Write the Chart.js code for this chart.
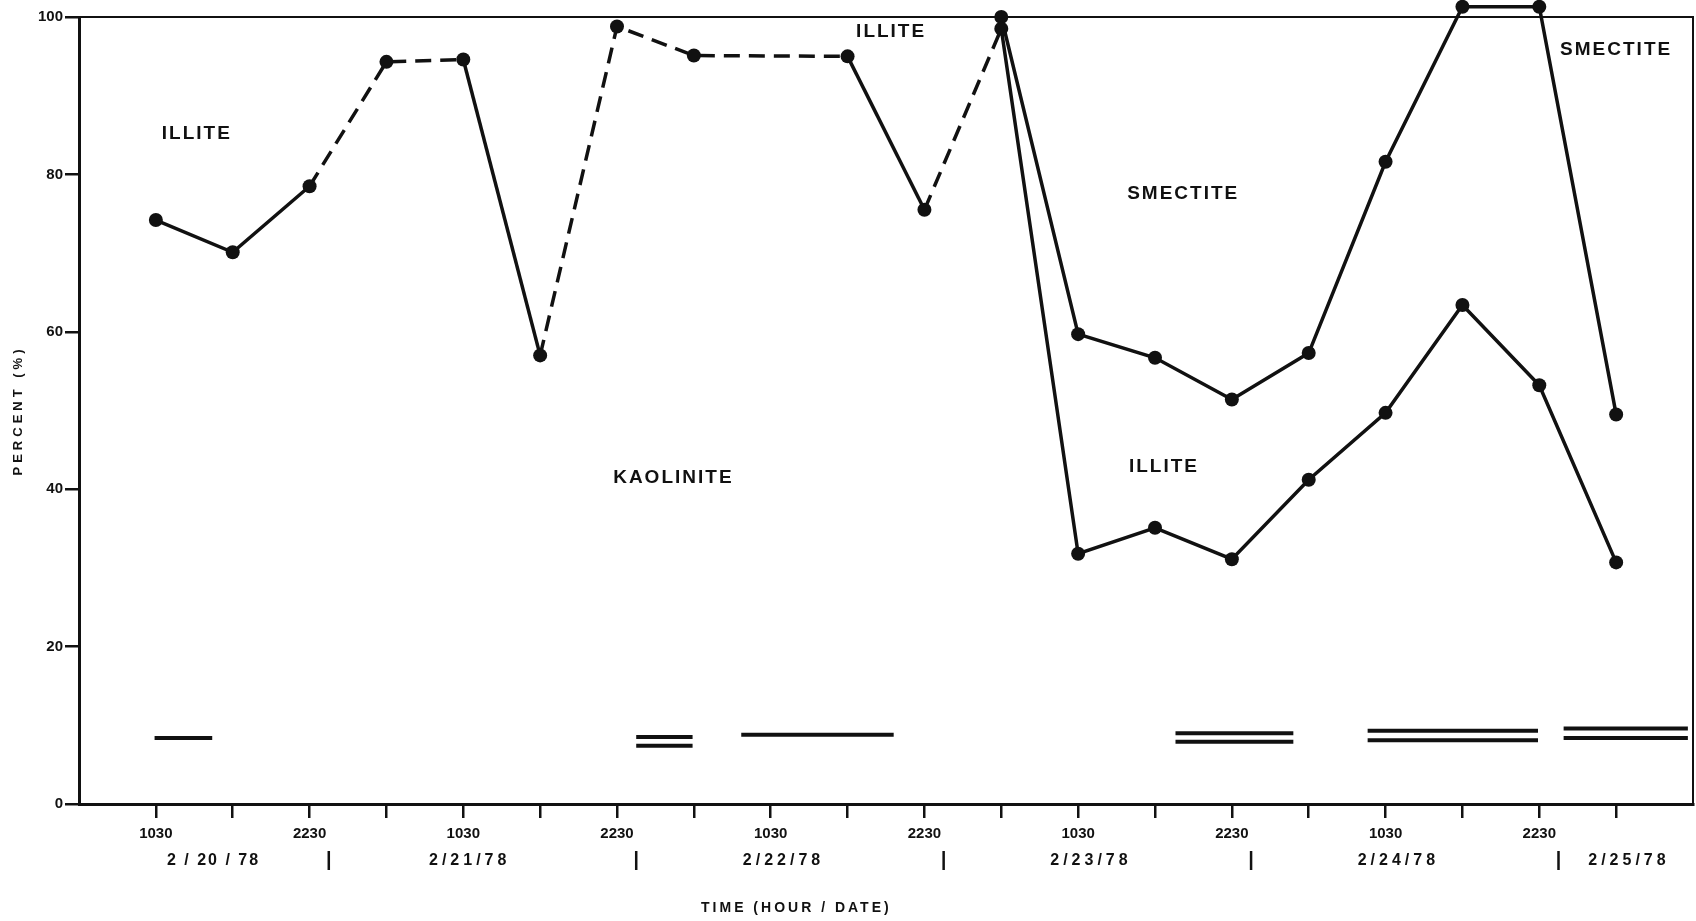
<!DOCTYPE html>
<html>
<head>
<meta charset="utf-8">
<script src="https://cdn.jsdelivr.net/npm/chart.js@4"></script>
<style>
html, body { margin: 0; padding: 0; background: #fff; }
#wrap { width: 1696px; height: 921px; }
</style>
</head>
<body>
<div id="wrap"><canvas id="render"></canvas></div>
<script>
// x values are hours counted from 0430 on 2/20/78
const tickHours = [6, 12, 18, 24, 30, 36, 42, 48, 54, 60, 66, 72, 78, 84, 90, 96, 102, 108, 114, 120];
const tickText = ['1030', '', '2230', '', '1030', '', '2230', '', '1030', '', '2230', '', '1030', '', '2230', '', '1030', '', '2230', ''];
const dateText = ['2 / 20 / 78', '2/21/78', '2/22/78', '2/23/78', '2/24/78', '2/25/78'];
const dateHours = [10.5, 30.5, 55, 79, 103, 121];
const midnightHours = [19.5, 43.5, 67.5, 91.5, 115.5];

// top of kaolinite
const kaolHours = [6, 12, 18, 24, 30, 36, 42, 48, 60, 66, 72, 78, 84, 90, 96, 102, 108, 114, 120];
const kaolValues = [74.2, 70.1, 78.5, 94.3, 94.6, 57.0, 98.8, 95.1, 95.0, 75.5, 98.5, 31.8, 35.1, 31.1, 41.2, 49.7, 63.4, 53.2, 30.7];
const kaolDashed = [0, 0, 1, 1, 0, 1, 1, 1, 0, 1, 0, 0, 0, 0, 0, 0, 0, 0];
// top of illite
const illHours = [72, 78, 84, 90, 96, 102, 108, 114, 120];
const illValues = [100, 59.7, 56.7, 51.4, 57.3, 81.6, 101.3, 101.3, 49.5];

// sampling bars near the bottom
const sampleStart = [5.9, 43.5, 51.7, 85.6, 100.6, 115.9];
const sampleEnd = [10.4, 47.9, 63.6, 94.8, 113.9, 125.6];
const sampleUpper = [8.4, 8.5, 8.8, 9.0, 9.3, 9.6];
const sampleLower = [null, 7.4, null, 7.9, 8.1, 8.4];

const regionText = ['ILLITE', 'ILLITE', 'SMECTITE', 'ILLITE', 'KAOLINITE', 'SMECTITE'];
const regionHours = [9.2, 63.4, 86.2, 84.7, 46.4, 120];
const regionValues = [85.2, 98.1, 77.5, 42.9, 41.4, 95.8];

Chart.defaults.font.family = '"Liberation Sans", Arial, sans-serif';
Chart.defaults.color = '#111';

const ink = '#111';
const toXY = (xs, ys) => xs.map((x, i) => ({x: x, y: ys[i]}));

const pointStyle = {
    pointRadius: 7,
    pointHoverRadius: 14,
    pointBackgroundColor: ink,
    pointBorderWidth: 0
};

const datasets = [Object.assign({
    data: toXY(kaolHours, kaolValues),
    borderColor: ink,
    borderWidth: 3.5,
    clip: false,
    segment: {
        borderDash: c => kaolDashed[c.p0DataIndex] ? [16, 9] : undefined
    }
}, pointStyle), Object.assign({
    data: toXY(illHours, illValues),
    borderColor: ink,
    borderWidth: 3.5,
    clip: false
}, pointStyle)];

sampleStart.forEach((s, i) => {
    [sampleUpper[i], sampleLower[i]].forEach(v => {
        if (v === null) return;
        datasets.push({
            data: [{x: s, y: v}, {x: sampleEnd[i], y: v}],
            borderColor: ink,
            borderWidth: 4,
            pointRadius: 0,
            clip: false
        });
    });
});

const extras = {
    id: 'extras',
    afterDraw(chart) {
        const c = chart.ctx;
        const a = chart.chartArea;
        const xs = chart.scales.x;
        const ys = chart.scales.y;
        c.save();
        c.strokeStyle = ink;
        c.fillStyle = ink;
        c.lineWidth = 2;
        c.beginPath();
        c.moveTo(a.left, a.top);
        c.lineTo(a.right, a.top);
        c.lineTo(a.right, a.bottom);
        c.stroke();

        c.textAlign = 'center';
        c.textBaseline = 'middle';

        // region names
        c.font = 'bold 19px "Liberation Sans", Arial, sans-serif';
        c.letterSpacing = '2px';
        regionText.forEach((t, i) => {
            c.fillText(t, xs.getPixelForValue(regionHours[i]), ys.getPixelForValue(regionValues[i]));
        });

        // dates and day separators
        c.font = 'bold 16px "Liberation Sans", Arial, sans-serif';
        dateText.forEach((t, i) => {
            c.letterSpacing = i === 0 ? '2px' : '4px';
            c.fillText(t, xs.getPixelForValue(dateHours[i]), a.bottom + 57);
        });
        c.lineWidth = 2.5;
        midnightHours.forEach(h => {
            const px = xs.getPixelForValue(h);
            c.beginPath();
            c.moveTo(px, a.bottom + 47);
            c.lineTo(px, a.bottom + 66);
            c.stroke();
        });

        // axis titles
        c.font = 'bold 14px "Liberation Sans", Arial, sans-serif';
        c.letterSpacing = '3px';
        c.fillText('TIME (HOUR / DATE)', xs.getPixelForValue(56), a.bottom + 104);

        c.font = 'bold 13px "Liberation Sans", Arial, sans-serif';
        c.letterSpacing = '4px';
        c.translate(18, (a.top + a.bottom) / 2);
        c.rotate(-Math.PI / 2);
        c.fillText('PERCENT (%)', 0, 0);
        c.restore();
    }
};

new Chart(document.getElementById('render'), {
    type: 'line',
    data: {datasets: datasets},
    options: {
        responsive: true,
        maintainAspectRatio: false,
        animation: false,
        events: [],
        layout: {autoPadding: false, padding: {top: 17, right: 3, left: 0, bottom: 0}},
        plugins: {legend: {display: false}, tooltip: {enabled: false}},
        scales: {
            x: {
                type: 'linear',
                min: 0,
                max: 126,
                afterBuildTicks: s => { s.ticks = tickHours.map(v => ({value: v})); },
                afterFit: s => { s.height = 117; },
                ticks: {
                    autoSkip: false,
                    maxRotation: 0,
                    padding: 7,
                    color: ink,
                    font: {size: 15, weight: 'bold'},
                    callback: (v, i) => tickText[i]
                },
                grid: {drawOnChartArea: false, tickLength: 14, color: ink, lineWidth: 2.5},
                border: {display: true, color: ink, width: 3}
            },
            y: {
                min: 0,
                max: 100,
                afterFit: s => { s.width = 79; },
                ticks: {
                    stepSize: 20,
                    padding: 2,
                    color: ink,
                    font: {size: 15, weight: 'bold'}
                },
                grid: {drawOnChartArea: false, tickLength: 14, color: ink, lineWidth: 2.5},
                border: {display: true, color: ink, width: 3}
            }
        }
    },
    plugins: [extras]
});
</script>
</body>
</html>
